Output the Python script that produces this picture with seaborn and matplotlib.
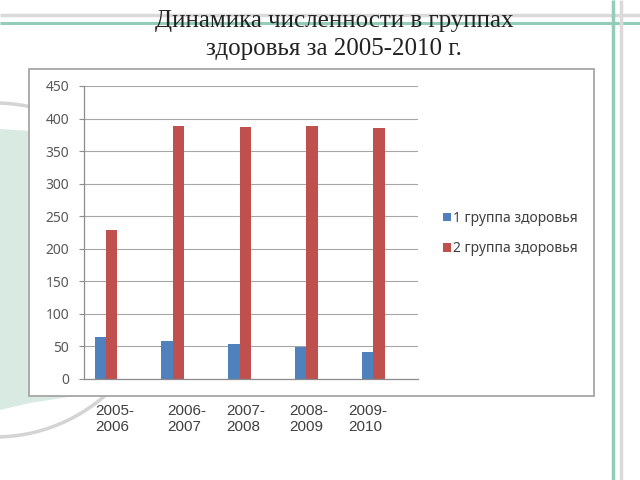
import matplotlib
matplotlib.use("Agg")
import matplotlib.pyplot as plt
import seaborn as sns
import pandas as pd
import numpy as np
from matplotlib.patches import Rectangle, Polygon, Circle

# ---- data ----
periods = ["2005-2006", "2006-2007", "2007-2008", "2008-2009", "2009-2010"]
period_labels = ["2005-\n2006", "2006-\n2007", "2007-\n2008", "2008-\n2009", "2009-\n2010"]
groups = ["1 группа здоровья", "2 группа здоровья"]
group1 = [64, 59, 54, 49, 42]
group2 = [229, 389, 387, 388, 385]
title_text = "Динамика численности в группах\nздоровья за 2005-2010 г."
yticks = [0, 50, 100, 150, 200, 250, 300, 350, 400, 450]

df = pd.DataFrame({
    "period": periods * 2,
    "group": [groups[0]] * len(periods) + [groups[1]] * len(periods),
    "value": group1 + group2,
})

sns.set_theme(style="white")
plt.rcParams["font.family"] = ["Noto Sans", "DejaVu Sans"]

W, H = 640, 480
fig = plt.figure(figsize=(6.4, 4.8), dpi=100)

# background decoration axes in pixel coordinates
bg = fig.add_axes([0, 0, 1, 1], zorder=0)
bg.set_xlim(0, W)
bg.set_ylim(H, 0)
bg.axis("off")

# pale green left shape
green_shape = Polygon(
    [(0, 129), (60, 133), (110, 136), (110, 375), (75, 396), (30, 403), (0, 410)],
    closed=True, facecolor="#d8eae2", edgecolor="none", zorder=1)
bg.add_patch(green_shape)
# gray arc
gray_circle = Circle((-5, 270), 167, facecolor="none", edgecolor="#d4d4d4",
                     linewidth=2.5, zorder=2)
bg.add_patch(gray_circle)

# top horizontal and right vertical decorative lines
bg.plot([0, W], [15, 15], color="#dadada", lw=2.5, zorder=2, solid_capstyle="butt")
bg.plot([0, W], [22.5, 22.5], color="#93cdb7", lw=2.2, zorder=2, solid_capstyle="butt")
bg.plot([613, 613], [0, H], color="#93cdb7", lw=2.5, zorder=2, solid_capstyle="butt")
bg.plot([621, 621], [0, H], color="#dadada", lw=2.5, zorder=2, solid_capstyle="butt")

# chart box
bg.add_patch(Rectangle((29, 69), 565, 327, facecolor="white", edgecolor="#a6a6a6",
                       linewidth=1.3, zorder=3))

# title
fig.text(334 / W, 1 - 35 / H, title_text, ha="center", va="center",
         fontsize=18, family=["Liberation Serif", "DejaVu Serif"], color="#222222",
         linespacing=1.36, zorder=5)

# main chart axes
left, right, top, bottom = 84, 418, 86, 379
ax = fig.add_axes([left / W, 1 - bottom / H, (right - left) / W, (bottom - top) / H], zorder=4)
ax.patch.set_alpha(0)

sns.barplot(data=df, x="period", y="value", hue="group", hue_order=groups,
            palette=["#4f81bd", "#c0504d"], width=0.34, errorbar=None,
            saturation=1, linewidth=0, ax=ax)

ax.set_xlim(-0.33, 4.67)
ax.set_ylim(0, 450)
ax.set_yticks(yticks)
ax.set_xticks([])
ax.set_xlabel("")
ax.set_ylabel("")
ax.yaxis.grid(True, color="#a6a6a6", linewidth=0.8)
ax.set_axisbelow(True)
for s in ["top", "right"]:
    ax.spines[s].set_visible(False)
for s in ["left", "bottom"]:
    ax.spines[s].set_color("#8c8c8c")
    ax.spines[s].set_linewidth(0.9)
ax.tick_params(axis="y", which="major", left=True, length=3.6, width=0.8,
               color="#8c8c8c", pad=7.0, labelsize=10, labelcolor="#595959")

# legend
handles, labels = ax.get_legend_handles_labels()
if ax.get_legend() is not None:
    ax.get_legend().remove()
leg = fig.legend(handles, labels, loc="center left",
                 bbox_to_anchor=(443 / W, 1 - 233.5 / H), bbox_transform=fig.transFigure,
                 frameon=False, fontsize=10, handlelength=0.55, handleheight=0.55,
                 handletextpad=0.15, labelspacing=1.13, borderpad=0, borderaxespad=0)
for t in leg.get_texts():
    t.set_color("#404040")
leg.set_zorder(6)

# period labels below the chart box
label_x = [95, 167, 226, 289, 348]
for x, lab in zip(label_x, period_labels):
    fig.text(x / W, 1 - 419 / H, lab, ha="left", va="center", fontsize=11,
             family=["Liberation Sans", "DejaVu Sans"], color="#404040",
             linespacing=1.15, zorder=5)

fig.savefig("out.png", dpi=100)
